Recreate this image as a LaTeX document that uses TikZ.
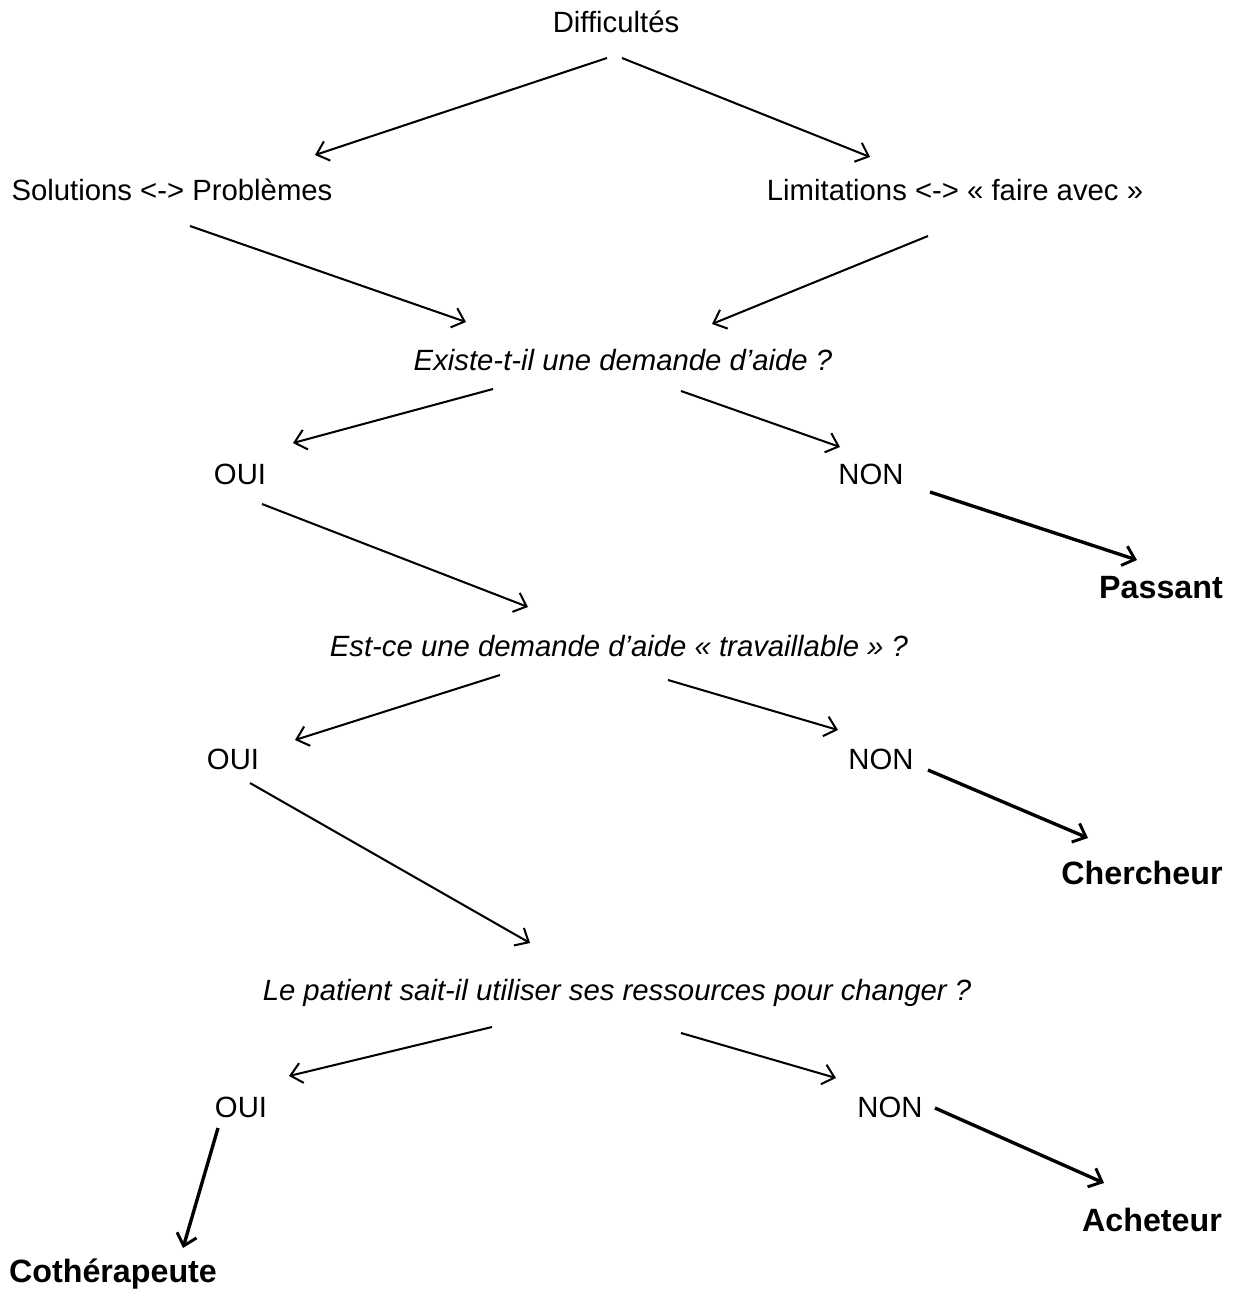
\documentclass[tikz,border=0pt]{standalone}
\usepackage{fontspec}
\setmainfont{Liberation Sans}
\usetikzlibrary{arrows.meta}

\begin{document}
\begin{tikzpicture}[x=0.0156cm, y=-0.0156cm,
    every node/.style = {font=\fontsize{13}{15}\selectfont, inner sep=0pt},
    question/.style = {font=\fontsize{13}{15}\selectfont\itshape},
    result/.style = {font=\fontsize{14.3}{17}\selectfont\bfseries},
    arr/.style = {line width=0.9pt, -{Straight Barb[length=5pt, width=9pt, line width=0.9pt]}},
    bigarr/.style = {line width=1.5pt, -{Straight Barb[length=5pt, width=9pt, line width=1.3pt]}}]
  \useasboundingbox (0,0) rectangle (1234,1299);

  \node (dif) at (616,22) {Difficultés};
  \node (sol) at (172,190) {Solutions <-> Problèmes};
  \node (lim) at (955,190) {Limitations <-> « faire avec »};
  \node[question] (q1) at (623,360) {Existe-t-il une demande d’aide ?};
  \node (oui1) at (240,474) {OUI};
  \node (non1) at (871,474) {NON};
  \node[result] (pas) at (1161,588) {Passant};
  \node[question] (q2) at (619,646) {Est-ce une demande d’aide « travaillable » ?};
  \node (oui2) at (233,759) {OUI};
  \node (non2) at (881,759) {NON};
  \node[result] (che) at (1142,873) {Chercheur};
  \node[question] (q3) at (617,993) {Le patient sait-il utiliser ses ressources pour changer ?};
  \node (oui3) at (241,1107) {OUI};
  \node (non3) at (890,1107) {NON};
  \node[result] (ach) at (1152,1220) {Acheteur};
  \node[result] (cot) at (113,1274) {Cothérapeute};

  % arrow ends
  \coordinate (dif-l) at (607,58);   \coordinate (sol-t) at (315,155);
  \coordinate (dif-r) at (622,58);   \coordinate (lim-t) at (870,157);
  \coordinate (sol-b) at (190,226);  \coordinate (q1-l) at (466,322);
  \coordinate (lim-b) at (928,236);  \coordinate (q1-r) at (712,324);
  \coordinate (q1-bl) at (493,389);  \coordinate (oui1-t) at (293,443);
  \coordinate (q1-br) at (681,391);  \coordinate (non1-t) at (840,447);
  \coordinate (oui1-b) at (262,504); \coordinate (q2-t) at (528,607);
  \coordinate (non1-r) at (930,492); \coordinate (pas-t) at (1137,560);
  \coordinate (q2-bl) at (500,675);  \coordinate (oui2-t) at (295,740);
  \coordinate (q2-br) at (668,680);  \coordinate (non2-t) at (838,730);
  \coordinate (non2-r) at (928,770); \coordinate (che-t) at (1088,838);
  \coordinate (oui2-b) at (250,783); \coordinate (q3-t) at (530,943);
  \coordinate (q3-bl) at (492,1027); \coordinate (oui3-t) at (289,1076);
  \coordinate (q3-br) at (681,1033); \coordinate (non3-t) at (836,1078);
  \coordinate (non3-r) at (935,1108); \coordinate (ach-t) at (1104,1183);
  \coordinate (oui3-b) at (218,1128); \coordinate (cot-t) at (183,1248);

  \draw[arr] (dif-l) -- (sol-t);
  \draw[arr] (dif-r) -- (lim-t);
  \draw[arr] (sol-b) -- (q1-l);
  \draw[arr] (lim-b) -- (q1-r);
  \draw[arr] (q1-bl) -- (oui1-t);
  \draw[arr] (q1-br) -- (non1-t);
  \draw[arr] (oui1-b) -- (q2-t);
  \draw[bigarr] (non1-r) -- (pas-t);
  \draw[arr] (q2-bl) -- (oui2-t);
  \draw[arr] (q2-br) -- (non2-t);
  \draw[bigarr] (non2-r) -- (che-t);
  \draw[arr] (oui2-b) -- (q3-t);
  \draw[arr] (q3-bl) -- (oui3-t);
  \draw[arr] (q3-br) -- (non3-t);
  \draw[bigarr] (non3-r) -- (ach-t);
  \draw[bigarr] (oui3-b) -- (cot-t);
\end{tikzpicture}
\end{document}
